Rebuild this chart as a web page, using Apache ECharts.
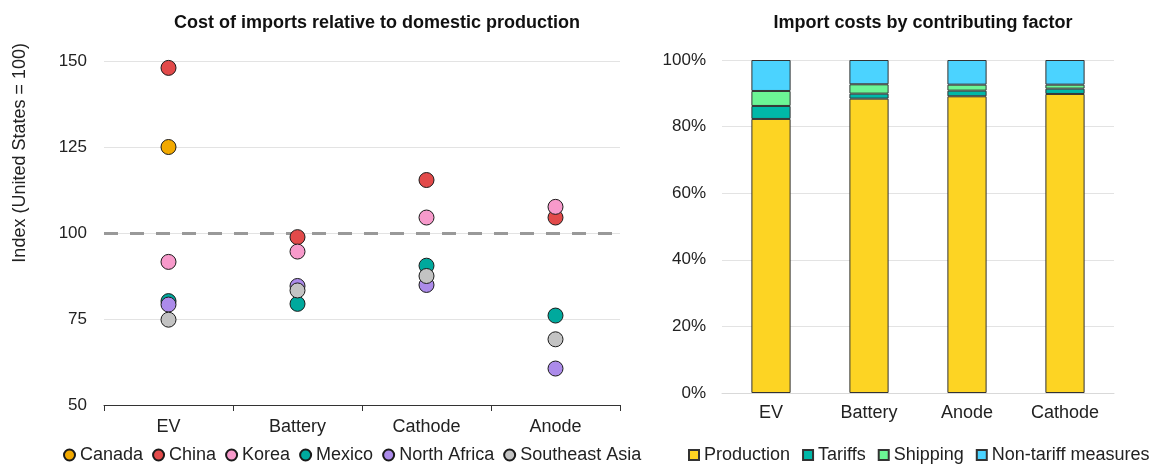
<!DOCTYPE html>
<html>
<head>
<meta charset="utf-8">
<script src="https://cdn.jsdelivr.net/npm/echarts@6/dist/echarts.min.js"></script>
<style>
  html, body { margin: 0; padding: 0; background: #fff; }
  #chart { width: 1153px; height: 464px; }
</style>
</head>
<body>
<div id="chart"></div>
<script>
//--------------------Data--------------------
let scatter_categories = ["EV", "Battery", "Cathode", "Anode"];
let canada_values = [125, null, null, null];
let china_values = [148, 98.8, 115.4, 104.5];
let korea_values = [91.6, 94.6, 104.5, 107.6];
let mexico_values = [80.2, 79.4, 90.5, 76];
let north_africa_values = [79.2, 84.6, 84.9, 60.6];
let southeast_asia_values = [74.8, 83.3, 87.5, 69.1];
let y_ticks_left = [50, 75, 100, 125, 150];

let bar_categories = ["EV", "Battery", "Anode", "Cathode"];
let production_values = [82.3, 88.4, 89.1, 89.8];
let tariffs_values = [3.9, 1.5, 1.7, 1.6];
let shipping_values = [4.5, 2.8, 1.8, 1.2];
let non_tariff_values = [9.3, 7.3, 7.4, 7.4];

let font_family = "Liberation Sans, Arial, sans-serif";

// Get dom in html
let chart_dom = document.getElementById("chart");
let chart = echarts.init(chart_dom);

//---------------------Series---------------------
let point_series = [
    ["Canada", canada_values, "#F2A900"],
    ["China", china_values, "#E24A4A"],
    ["Korea", korea_values, "#F79ACB"],
    ["Mexico", mexico_values, "#00A99D"],
    ["North Africa", north_africa_values, "#AC8BEA"],
    ["Southeast Asia", southeast_asia_values, "#C3C3C3"]
].map(function (s, i) {
    let item = {
        type: "scatter",
        name: s[0],
        xAxisIndex: 0,
        yAxisIndex: 0,
        symbol: "circle",
        symbolSize: 15,
        itemStyle: { color: s[2], borderColor: "#1a1a1a", borderWidth: 1, opacity: 1 },
        data: s[1],
        z: 3 + i
    };
    if (i === 0) {
        // reference line at the US level
        item.markLine = {
            silent: true,
            symbol: "none",
            label: { show: false },
            lineStyle: { color: "#999999", width: 3, type: [14, 12] },
            data: [{ yAxis: 100 }],
            z: 2
        };
    }
    return item;
});

let bar_series = [
    ["Production", production_values, "#FDD423"],
    ["Tariffs", tariffs_values, "#00B8A8"],
    ["Shipping", shipping_values, "#6CF595"],
    ["Non-tariff measures", non_tariff_values, "#4BD3FF"]
].map(function (s) {
    return {
        type: "bar",
        name: s[0],
        stack: "cost",
        xAxisIndex: 1,
        yAxisIndex: 1,
        barWidth: "40%",
        itemStyle: { color: s[2], borderColor: "#333333", borderWidth: 1 },
        data: s[1]
    };
});

//------------------Generate Graph------------------
let legend_text = { fontFamily: font_family, color: "#222", fontSize: 18 };
let title_text = { fontFamily: font_family, fontSize: 18, fontWeight: "bold", color: "#111" };
let chart_option = {
    backgroundColor: "#ffffff",
    textStyle: { fontFamily: font_family },
    animation: false,
    title: [
        { text: "Cost of imports relative to domestic production", left: 372, top: 9, textAlign: "center", textStyle: title_text },
        { text: "Import costs by contributing factor", left: 918, top: 9, textAlign: "center", textStyle: title_text }
    ],
    graphic: [
        {
            type: "text",
            left: 11, top: 43,
            rotation: Math.PI / 2,
            originX: 0, originY: 0,
            style: { text: "Index (United States = 100)", fontSize: 18, fontFamily: font_family, fill: "#222" }
        }
    ],
    legend: [
        {
            data: point_series.map(function (s) { return s.name; }),
            left: 63, top: 446, padding: 0, width: 620,
            icon: "circle",
            itemWidth: 11, itemHeight: 11, itemGap: 9,
            textStyle: legend_text
        },
        {
            data: bar_series.map(function (s) { return s.name; }),
            left: 688, top: 446, padding: 0, width: 480,
            icon: "rect",
            itemWidth: 10, itemHeight: 10, itemGap: 12,
            textStyle: legend_text
        }
    ],
    grid: [
        { left: 104, right: 533, top: 61, bottom: 59 },
        { left: 722, right: 39, top: 60, bottom: 71 }
    ],
    xAxis: [
        {
            type: "category", gridIndex: 0, data: scatter_categories,
            axisLine: { lineStyle: { color: "#333", width: 1 } },
            axisTick: { show: true, length: 6, lineStyle: { color: "#333" } },
            axisLabel: { fontSize: 18, color: "#222", margin: 13 }
        },
        {
            type: "category", gridIndex: 1, data: bar_categories,
            axisLine: { lineStyle: { color: "#d9d9d9", width: 1 } },
            axisTick: { show: false },
            axisLabel: { fontSize: 18, color: "#222", margin: 11 }
        }
    ],
    yAxis: [
        {
            type: "value", gridIndex: 0, min: 50, max: 150, interval: 25,
            axisLine: { show: false }, axisTick: { show: false },
            axisLabel: {
                fontSize: 17, color: "#222", margin: 17,
                formatter: function (v) { return y_ticks_left.indexOf(v) >= 0 ? v : ""; }
            },
            splitLine: { lineStyle: { color: "#e3e3e3", width: 1 } }
        },
        {
            type: "value", gridIndex: 1, min: 0, max: 100, interval: 20,
            axisLine: { show: false }, axisTick: { show: false },
            axisLabel: { fontSize: 17, color: "#222", margin: 16, formatter: "{value}%" },
            splitLine: { lineStyle: { color: "#e3e3e3", width: 1 } }
        }
    ],
    series: point_series.concat(bar_series)
};
if (chart_option && typeof chart_option === "object") {
    chart.setOption(chart_option, true);
}
</script>
</body>
</html>
